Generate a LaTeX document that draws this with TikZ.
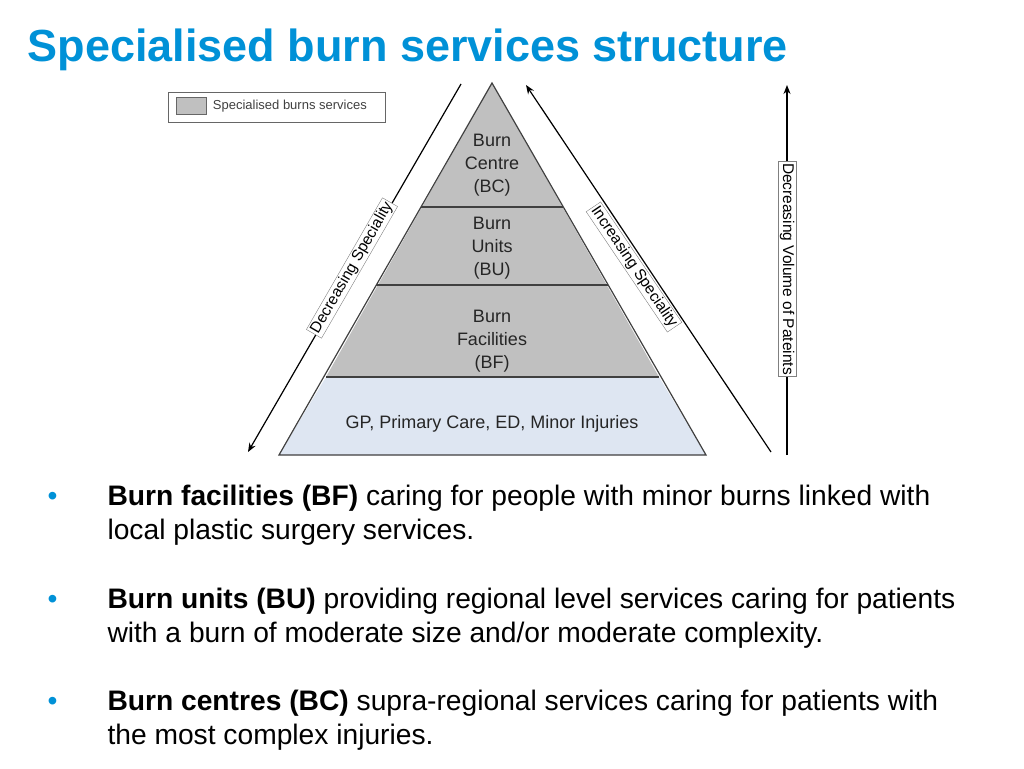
\documentclass[tikz,border=0pt]{standalone}
\usepackage{fontspec}
\setmainfont{Liberation Sans}
\usetikzlibrary{positioning,arrows.meta}
\definecolor{titleblue}{RGB}{0,145,215}
\definecolor{tiergrey}{RGB}{192,192,192}
\definecolor{baseblue}{RGB}{222,230,242}
\begin{document}
\begin{tikzpicture}[x=1pt,y=-1pt,
  tier/.style={draw=black!75,line width=1.2pt},
  tierlabel/.style={align=center,font=\fontsize{18}{23}\selectfont,text=black!85},
  sidelabel/.style={draw=black!50,fill=white,inner sep=1.5pt,font=\fontsize{15.5}{15.5}\selectfont},
  sidearrow/.style={-{Stealth[length=9pt,width=7pt]},line width=1.2pt},
  bullettext/.style={anchor=base west,font=\fontsize{28.2}{32}\selectfont}]
  \useasboundingbox (0,0) rectangle (1024,768);
  \node[anchor=base west,text=titleblue,font=\bfseries\fontsize{45}{50}\selectfont] (title) at (24,62) {Specialised burn services structure};
  % pyramid tiers
  \coordinate (apex) at (492,83);
  \fill[baseblue] (326,377) -- (659,377) -- (706,455) -- (279,455) -- cycle;
  \fill[tiergrey] (apex) -- (659,377) -- (326,377) -- cycle;
  \draw[tier] (apex) -- (706,455) -- (279,455) -- cycle;
  \draw[tier] (421,207) -- (563,207);
  \draw[tier] (376,285) -- (608,285);
  \draw[tier] (326,377) -- (659,377);
  \node[tierlabel] (bc) at (492,165) {Burn\\Centre\\(BC)};
  \node[tierlabel] (bu) at (492,248) {Burn\\Units\\(BU)};
  \node[tierlabel] (bf) at (492,341) {Burn\\Facilities\\(BF)};
  \node[tierlabel] (gp) at (492,424) {GP, Primary Care, ED, Minor Injuries};
  % legend
  \node[draw=black!60,line width=1pt,minimum width=217pt,minimum height=30pt] (legend) at (276.5,107) {};
  \node[draw=black!60,fill=tiergrey,minimum width=30pt,minimum height=17pt,anchor=west] (swatch) at (176,106) {};
  \node[right=3pt of swatch,font=\fontsize{13}{13}\selectfont,text=black!75] (legendtext) {Specialised burns services};
  % side arrows
  \coordinate (dtop) at (461,84);
  \coordinate (dbot) at (248,452);
  \coordinate (itop) at (526,85);
  \coordinate (ibot) at (771,452);
  \coordinate (vtop) at (787,85);
  \coordinate (vbot) at (787,455);
  \draw[sidearrow] (dtop) -- (dbot);
  \draw[sidearrow] (ibot) -- (itop);
  \draw[sidearrow] (vbot) -- (vtop);
  \node[sidelabel,rotate=60] (dec) at (352,268) {Decreasing Speciality};
  \node[sidelabel,rotate=-56] (inc) at (634,267) {Increasing Speciality};
  \node[sidelabel,rotate=-90] (vol) at (787,269) {Decreasing Volume of Pateints};
  % bullets
  \foreach \y/\a/\b/\c in {
    505/Burn facilities (BF)/caring for people with minor burns linked with/local plastic surgery services.,
    608/Burn units (BU)/providing regional level services caring for patients/with a burn of moderate size and\slash or moderate complexity.,
    710/Burn centres (BC)/supra-regional services caring for patients with/the most complex injuries.}{
    \node[bullettext,text=titleblue] at (44,\y) {•};
    \node[bullettext] at (104,\y) {\textbf{\a} \b};
    \node[bullettext] at (104,\y+34) {\c};
  }
\end{tikzpicture}
\end{document}
